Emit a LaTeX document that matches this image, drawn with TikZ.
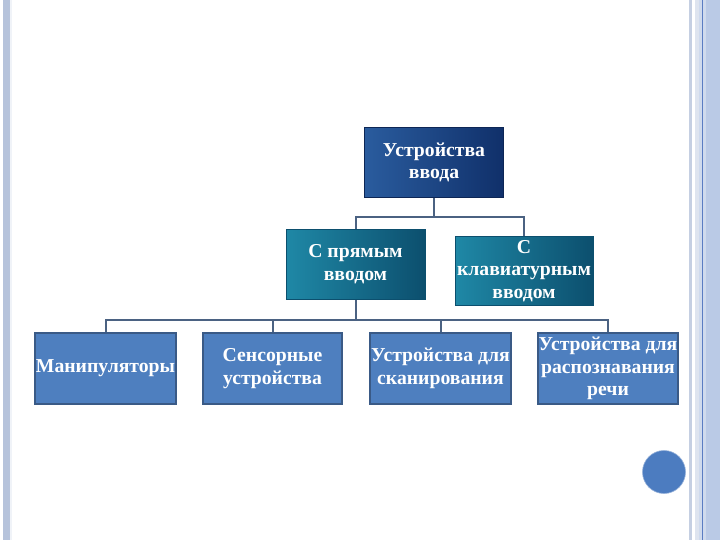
\documentclass[tikz,border=0pt]{standalone}
\usepackage{fontspec}
\setmainfont{Liberation Serif}
\definecolor{bandc}{HTML}{B6C3DB}
\definecolor{bandr}{HTML}{BACAE6}
\definecolor{blueline}{HTML}{5A7CC2}
\definecolor{topA}{HTML}{2A5C9E}
\definecolor{topB}{HTML}{10306A}
\definecolor{tealA}{HTML}{1F88A6}
\definecolor{tealB}{HTML}{0C4F6E}
\definecolor{boxfill}{HTML}{4E7FBF}
\definecolor{boxedge}{HTML}{3A5A86}
\definecolor{conn}{HTML}{4B6282}
\definecolor{dotc}{HTML}{4C7CC0}
\tikzset{
  lbl/.style={text=white, font=\bfseries\fontsize{19.7}{22.8}\selectfont, align=center, inner sep=0pt},
  topbox/.style={lbl, left color=topA, right color=topB, draw=topB!80!black, line width=0.6pt},
  tealbox/.style={lbl, left color=tealA, right color=tealB, draw=tealB, line width=0.6pt},
  leafbox/.style={lbl, fill=boxfill, draw=boxedge, line width=1.4pt},
  wire/.style={draw=conn, line width=2pt}
}
\begin{document}
\begin{tikzpicture}[x=1pt,y=-1pt]
\useasboundingbox (0,0) rectangle (720,540);
\fill[white] (0,0) rectangle (720,540);
% borders
\fill[bandc] (3,0) rectangle (9.5,540);
\fill[white!80!bandc] (10,0) rectangle (11.5,540);
\fill[bandc!80!white] (689,0) rectangle (691.5,540);
\fill[bandc!45!white] (695,0) rectangle (698.5,540);
\fill[bandr!70!white] (698.5,0) rectangle (720,540);
\fill[bandr] (706,0) rectangle (720,540);
\fill[blueline] (701.5,0) rectangle (703,540);
% nodes
\node[topbox, minimum width=139, minimum height=70] (top) at (434,162.5) {Устройства\\ввода};
\node[tealbox, minimum width=139, minimum height=70] (direct) at (355.5,264.5) {С прямым\\вводом};
\node[tealbox, minimum width=138, minimum height=69] (keyb) at (524,271) {С\\клавиатурным\\вводом};
\node[leafbox, minimum width=141, minimum height=71] (b1) at (105.5,368.5) {Манипуляторы};
\node[leafbox, minimum width=139, minimum height=71] (b2) at (272.5,368.5) {Сенсорные\\устройства};
\node[leafbox, minimum width=141, minimum height=71] (b3) at (440.5,368.5) {Устройства для\\сканирования};
\node[leafbox, minimum width=140, minimum height=71] (b4) at (608,368.5) {Устройства для\\распознавания\\речи};
% connectors
\coordinate (j1) at (434,217);
\coordinate (j2) at (355.5,320);
\draw[wire] (top.south) -- (j1);
\draw[wire] (j1) -| (direct.north);
\draw[wire] (j1) -| (keyb.north);
\draw[wire] (direct.south) -- (j2);
\draw[wire] (j2) -| (b1.north);
\draw[wire] (j2) -| (b2.north);
\draw[wire] (j2) -| (b3.north);
\draw[wire] (j2) -| (b4.north);
% dot
\node[circle, fill=dotc, draw=dotc!60!white, line width=0.6pt, minimum size=43, inner sep=0pt] (dot) at (664,472) {};
\end{tikzpicture}
\end{document}
